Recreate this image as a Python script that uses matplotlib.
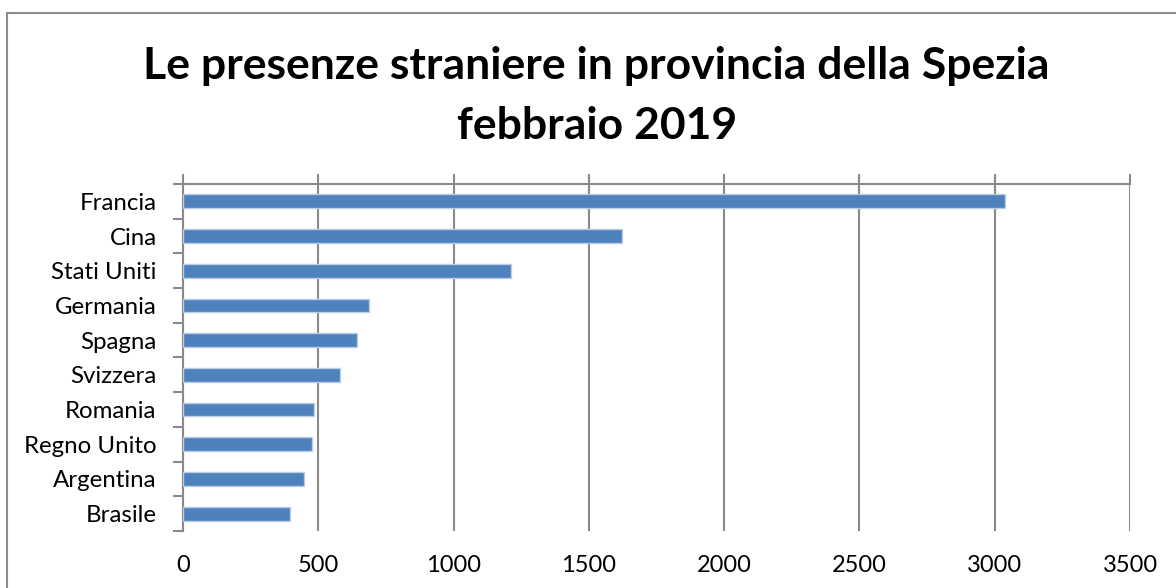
import matplotlib
matplotlib.use("Agg")
import matplotlib.pyplot as plt
from matplotlib.patches import Rectangle
from matplotlib.ticker import MultipleLocator, FixedLocator

plt.rcParams['font.family'] = ['Lato', 'DejaVu Sans']

countries = ["Francia", "Cina", "Stati Uniti", "Germania", "Spagna",
             "Svizzera", "Romania", "Regno Unito", "Argentina", "Brasile"]
values = [3038, 1622, 1212, 687, 643, 580, 484, 477, 447, 395]
title_line1 = "Le presenze straniere in provincia della Spezia"
title_line2 = "febbraio 2019"

W, H = 1176, 588
fig = plt.figure(figsize=(W / 100, H / 100), dpi=100)
fig.patch.set_facecolor("white")

# outer chart border
fig.patches.append(Rectangle((7 / W, -0.1), 1.2, 1 - 13 / H + 0.1,
                             transform=fig.transFigure, fill=False,
                             edgecolor="#8c8c8c", linewidth=1.5))

ax = fig.add_axes([183 / W, 1 - 531 / H, (1130 - 183) / W, (531 - 184) / H])
grid_c = "#8a8a8a"

y = list(range(len(countries)))
ax.barh(y, values, height=0.4, color="#4F81BD", edgecolor="#B9CDE5",
        linewidth=1, zorder=3)
ax.set_xlim(0, 3500)
ax.set_ylim(len(countries) - 0.5, -0.5)

ax.xaxis.set_major_locator(MultipleLocator(500))
ax.grid(axis="x", color=grid_c, linewidth=1.5, zorder=0)
ax.tick_params(axis="x", top=True, bottom=False, labeltop=False,
               labelbottom=True, direction="out", length=7, width=1.5,
               color=grid_c, labelsize=17, pad=10)

ax.set_yticks(y)
ax.set_yticklabels(countries)
ax.yaxis.set_minor_locator(FixedLocator([i - 0.5 for i in range(len(countries) + 1)]))
ax.tick_params(axis="y", which="major", length=0, labelsize=17.3, pad=19)
ax.tick_params(axis="y", which="minor", length=7, width=1.5, color=grid_c,
               direction="out")

for s in ["bottom", "right"]:
    ax.spines[s].set_visible(False)
for s in ["top", "left"]:
    ax.spines[s].set_color(grid_c)
    ax.spines[s].set_linewidth(1.5)

fig.text(596 / W, 1 - 79 / H, title_line1, ha="center", va="baseline",
         fontsize=32, fontweight="bold")
fig.text(597 / W, 1 - 139 / H, title_line2, ha="center", va="baseline",
         fontsize=32, fontweight="bold")

fig.savefig("out.png", dpi=100, facecolor="white")
